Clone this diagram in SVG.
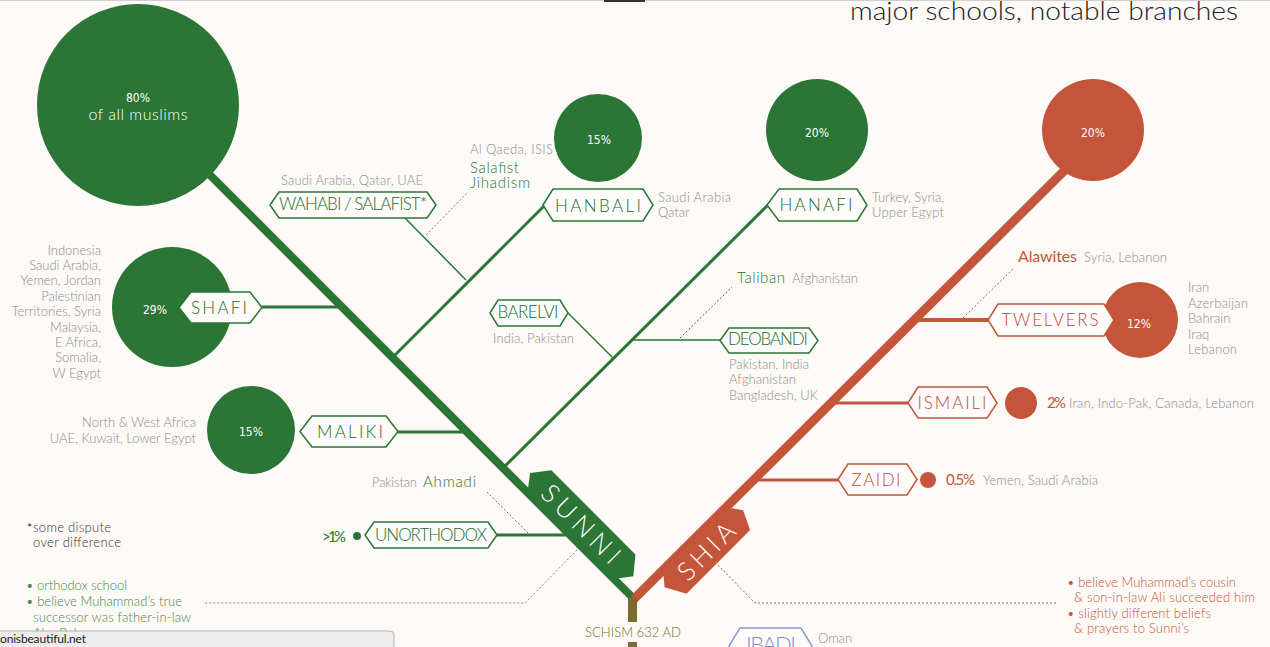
<svg xmlns="http://www.w3.org/2000/svg" width="1270" height="647" viewBox="0 0 1270 647">
<style>
.bg{fill:#fcf9f6}
.g{fill:#2b7536}
.o{fill:#c4553a}
.tagG{fill:#fefcfa;stroke:#2b7536;stroke-width:1.5}
.tagO{fill:#fefcfa;stroke:#c4553a;stroke-width:1.5}
.tagB{fill:#fefcfa;stroke:#8a9bd0;stroke-width:1.5}
.lg{stroke:#2b7536;fill:none}
.lo{stroke:#c4553a;fill:none}
.dot{stroke-dasharray:2 2;stroke-width:1;fill:none}
text{font-family:Lato,"Open Sans","Liberation Sans",sans-serif}
.grey{fill:#8d8d8d;font-size:13px;font-weight:300}
.tl{font-size:17px;text-anchor:middle;font-weight:300}
.tlG{fill:#22692d}
.tlO{fill:#b94a30}
.pct{font-family:"DejaVu Sans Condensed","DejaVu Sans",sans-serif;fill:#fff;font-size:12px;text-anchor:middle}
.gn{fill:#2b7536;font-size:15px;font-weight:300}
</style>
<rect class="bg" x="0" y="0" width="1270" height="647"/>
<line x1="0" y1="0.5" x2="1270" y2="0.5" stroke="#cfcfcf" stroke-width="1"/>
<rect x="604" y="0" width="41" height="2" fill="#333"/>
<text x="850" y="20" font-size="25" fill="#222" font-weight="300" textLength="388" lengthAdjust="spacingAndGlyphs">major schools, notable branches</text>

<g id="connectors">
<line class="lg" x1="185" y1="150" x2="634" y2="599" stroke-width="8"/>
<line class="lo" x1="634" y1="599" x2="1072" y2="163" stroke-width="9"/>
<rect x="628" y="598" width="9" height="24" fill="#7d6a2c"/>
<rect x="628" y="642" width="9" height="6" fill="#7d6a2c"/>
<line class="lg" x1="262" y1="307" x2="343" y2="307" stroke-width="3"/>
<line class="lg" x1="398" y1="432" x2="468" y2="432" stroke-width="3"/>
<line class="lg" x1="497" y1="535" x2="571" y2="535" stroke-width="3"/>
<line class="lg" x1="392" y1="358" x2="546" y2="204" stroke-width="3"/>
<line class="lg" x1="405" y1="218" x2="466" y2="280" stroke-width="1.5"/>
<line class="lg" x1="503" y1="468" x2="769" y2="204" stroke-width="3"/>
<line class="lg" x1="568" y1="313" x2="613" y2="358" stroke-width="1.5"/>
<line class="lg" x1="632" y1="340" x2="720" y2="340" stroke-width="1.5"/>
<line class="lo" x1="915" y1="320" x2="988" y2="320" stroke-width="4"/>
<line class="lo" x1="832" y1="403" x2="908" y2="403" stroke-width="3"/>
<line class="lo" x1="755" y1="480" x2="838" y2="480" stroke-width="3"/>
<polyline class="dot" stroke="#6f7f6f" points="426,235 468,192"/>
<polyline class="dot" stroke="#3a6a3e" points="680,338 732,287"/>
<polyline class="dot" stroke="#c4553a" points="963,318 1014,268"/>
<polyline class="dot" stroke="#777" points="487,492 529,534"/>
<polyline class="dot" stroke="#8a8a8a" points="577,550 525,603 203,603"/>
<polyline class="dot" stroke="#c4553a" points="718,565 755,603 1058,603"/>
</g>

<g id="sunni-root">
<circle class="g" cx="138" cy="105" r="101"/>
<text class="pct" x="138" y="102" font-size="12">80%</text>
<text x="138" y="120" fill="#fff" font-size="16" font-weight="300" text-anchor="middle" textLength="99">of all muslims</text>
</g>

<g id="sunni-tag" transform="translate(581,524) rotate(45)">
<polygon class="g" points="-72,0 -59,-17 60,-17 74,0 61,17 -59,17"/>
<text x="0" y="9" fill="#fff" font-size="26" font-weight="300" text-anchor="middle" textLength="100">SUNNI</text>
</g>

<g id="shia-tag" transform="translate(707,552) rotate(-45)">
<polygon class="o" points="-55,-5 -45,-17 46,-17 55,-4 46,15 -44,15"/>
<text x="0" y="8" fill="#fff" font-size="26" font-weight="300" text-anchor="middle" textLength="70">SHIA</text>
</g>

<g id="shafi">
<circle class="g" cx="172" cy="307" r="60"/>
<text class="pct" x="155" y="314">29%</text>
<polygon class="tagG" points="179,307.5 191,292 250,292 262,307.5 250,323 191,323"/>
<text class="tl tlG" x="219" y="314" font-size="18" textLength="56">SHAFI</text>
<g class="grey" text-anchor="end">
<text x="101" y="255">Indonesia</text>
<text x="101" y="270">Saudi Arabia,</text>
<text x="101" y="285">Yemen, Jordan</text>
<text x="101" y="301">Palestinian</text>
<text x="101" y="316">Territories, Syria</text>
<text x="101" y="332">Malaysia,</text>
<text x="101" y="347">E Africa,</text>
<text x="101" y="362">Somalia,</text>
<text x="101" y="378">W Egypt</text>
</g>
</g>

<g id="maliki">
<circle class="g" cx="251" cy="430" r="44"/>
<text class="pct" x="251" y="436">15%</text>
<polygon class="tagG" points="300,431.5 312,416 386,416 398,431.5 386,447 312,447"/>
<text class="tl tlG" x="350" y="438" font-size="18" textLength="66">MALIKI</text>
<text class="grey" x="196" y="427" text-anchor="end">North &amp; West Africa</text>
<text class="grey" x="196" y="443" text-anchor="end">UAE, Kuwait, Lower Egypt</text>
</g>

<g id="unorthodox">
<circle class="g" cx="357" cy="536" r="4"/>
<text x="322" y="542" fill="#2b7536" font-size="15" textLength="24" font-family="Liberation Serif, serif">&gt;1%</text>
<polygon class="tagG" points="365,535 374,522 488,522 497,535 488,548 374,548"/>
<text class="tl tlG" x="431" y="541" font-size="15" textLength="112">UNORTHODOX</text>
<text class="grey" x="372" y="487" textLength="45">Pakistan</text>
<text class="gn" x="423" y="487" font-size="16" textLength="53">Ahmadi</text>
</g>

<g id="wahabi">
<polygon class="tagG" points="270,205 279,192 427,192 436,205 427,218 279,218"/>
<text class="tl tlG" x="353" y="210" font-size="14" textLength="148">WAHABI / SALAFIST*</text>
<text class="grey" x="281" y="185" textLength="142">Saudi Arabia, Qatar, UAE</text>
<text class="grey" x="470" y="154" font-size="14" textLength="83">Al Qaeda, ISIS</text>
<text class="gn" x="470" y="173" textLength="49">Salafist</text>
<text class="gn" x="470" y="188" textLength="60">Jihadism</text>
</g>

<g id="hanbali">
<circle class="g" cx="598" cy="138" r="44"/>
<text class="pct" x="599" y="144">15%</text>
<polygon class="tagG" points="543,205 553,189 643,189 653,205 643,221 553,221"/>
<text class="tl tlG" x="598" y="212" font-size="19" textLength="86">HANBALI</text>
<text class="grey" x="658" y="202" textLength="73">Saudi Arabia</text>
<text class="grey" x="658" y="217">Qatar</text>
</g>

<g id="hanafi">
<circle class="g" cx="817" cy="130" r="51"/>
<text class="pct" x="817" y="137">20%</text>
<polygon class="tagG" points="767,205 779,189 857,189 867,205 857,221 779,221"/>
<text class="tl tlG" x="816" y="211" font-size="19" textLength="73">HANAFI</text>
<text class="grey" x="872" y="202" textLength="72">Turkey, Syria,</text>
<text class="grey" x="872" y="217" textLength="72">Upper Egypt</text>
</g>

<g id="barelvi">
<polygon class="tagG" points="490,313 498,300 560,300 568,313 560,326 498,326"/>
<text class="tl tlG" x="528" y="318" font-size="14" textLength="61">BARELVI</text>
<text class="grey" x="493" y="343" textLength="81">India, Pakistan</text>
</g>

<g id="deobandi">
<polygon class="tagG" points="720,340.5 729,328 809,328 818,340.5 809,353 729,353"/>
<text class="tl tlG" x="768" y="345" font-size="14" textLength="80">DEOBANDI</text>
<text class="grey" x="729" y="369" textLength="80">Pakistan, India</text>
<text class="grey" x="729" y="384" textLength="67">Afghanistan</text>
<text class="grey" x="729" y="400" textLength="89">Bangladesh, UK</text>
<text class="gn" x="737" y="283" font-size="16" textLength="48">Taliban</text>
<text class="grey" x="792" y="283" textLength="66">Afghanistan</text>
</g>

<g id="shia-root">
<circle class="o" cx="1093" cy="130" r="51"/>
<text class="pct" x="1093" y="137">20%</text>
</g>

<g id="twelvers">
<circle class="o" cx="1140" cy="320" r="38"/>
<polygon class="tagO" points="988,320 998,304 1104,304 1114,320 1104,336 998,336"/>
<text class="tl tlO" x="1050" y="326" font-size="17" textLength="97">TWELVERS</text>
<text class="pct" x="1139" y="328">12%</text>
<g class="grey">
<text x="1188" y="292">Iran</text>
<text x="1188" y="308" textLength="60">Azerbaijan</text>
<text x="1188" y="323">Bahrain</text>
<text x="1188" y="339">Iraq</text>
<text x="1188" y="354" textLength="49">Lebanon</text>
</g>
<text x="1018" y="262" fill="#c4553a" font-size="16" font-family="Liberation Serif, serif" textLength="59">Alawites</text>
<text class="grey" x="1084" y="262" textLength="83">Syria, Lebanon</text>
</g>

<g id="ismaili">
<polygon class="tagO" points="908,403 918,387 987,387 997,403 987,418 918,418"/>
<text class="tl tlO" x="952" y="409" font-size="17" textLength="69">ISMAILI</text>
<circle class="o" cx="1021" cy="403" r="16"/>
<text x="1047" y="408" fill="#c4553a" font-size="15" textLength="19">2%</text>
<text class="grey" x="1069" y="408" textLength="185">Iran, Indo-Pak, Canada, Lebanon</text>
</g>

<g id="zaidi">
<polygon class="tagO" points="838,479.5 848,464 907,464 917,479.5 907,495 848,495"/>
<text class="tl tlO" x="876" y="486" font-size="17" textLength="49">ZAIDI</text>
<circle class="o" cx="928" cy="480" r="8"/>
<text x="946" y="485" fill="#c4553a" font-size="15" textLength="29">0.5%</text>
<text class="grey" x="983" y="485" textLength="115">Yemen, Saudi Arabia</text>
</g>

<g id="notes">
<text x="27" y="532" fill="#222" font-size="12">*</text>
<text x="33" y="532" fill="#333" font-size="13" font-weight="300" textLength="78">some dispute</text>
<text x="33" y="547" fill="#333" font-size="13" font-weight="300" textLength="88">over difference</text>
<g fill="#3f8a49" font-size="13" font-weight="300">
<text x="26" y="590" textLength="101">• orthodox school</text>
<text x="26" y="606" textLength="156">• believe Muhammad’s true</text>
<text x="33" y="622" textLength="158">successor was father-in-law</text>
<text x="33" y="638">Abu Bakr</text>
</g>
<g fill="#c4553a" font-size="13" font-weight="300">
<text x="1067" y="587" textLength="169">• believe Muhammad’s cousin</text>
<text x="1074" y="602" textLength="181">&amp; son-in-law Ali succeeded him</text>
<text x="1067" y="618" textLength="144">• slightly different beliefs</text>
<text x="1074" y="633" textLength="115">&amp; prayers to Sunni’s</text>
</g>
</g>

<g id="schism">
<text x="585" y="637" fill="#7d6a2c" font-size="13" font-weight="300" textLength="96">SCHISM 632 AD</text>
</g>

<g id="ibadi">
<polygon class="tagB" points="729,646 740,628 801,628 812,646 801,664 740,664"/>
<text x="771" y="652" fill="#7d8fc8" font-size="22" font-weight="300" text-anchor="middle" textLength="50">IBADI</text>
<text class="grey" x="818" y="643">Oman</text>
</g>

<g id="statusbar">
<rect x="-5" y="631" width="399" height="22" rx="4" fill="#ececec" stroke="#b3b3b3" stroke-width="1"/>
<text x="0" y="643" fill="#222" font-size="12" font-family="DejaVu Sans, sans-serif" textLength="86">onisbeautiful.net</text>
</g>
</svg>
